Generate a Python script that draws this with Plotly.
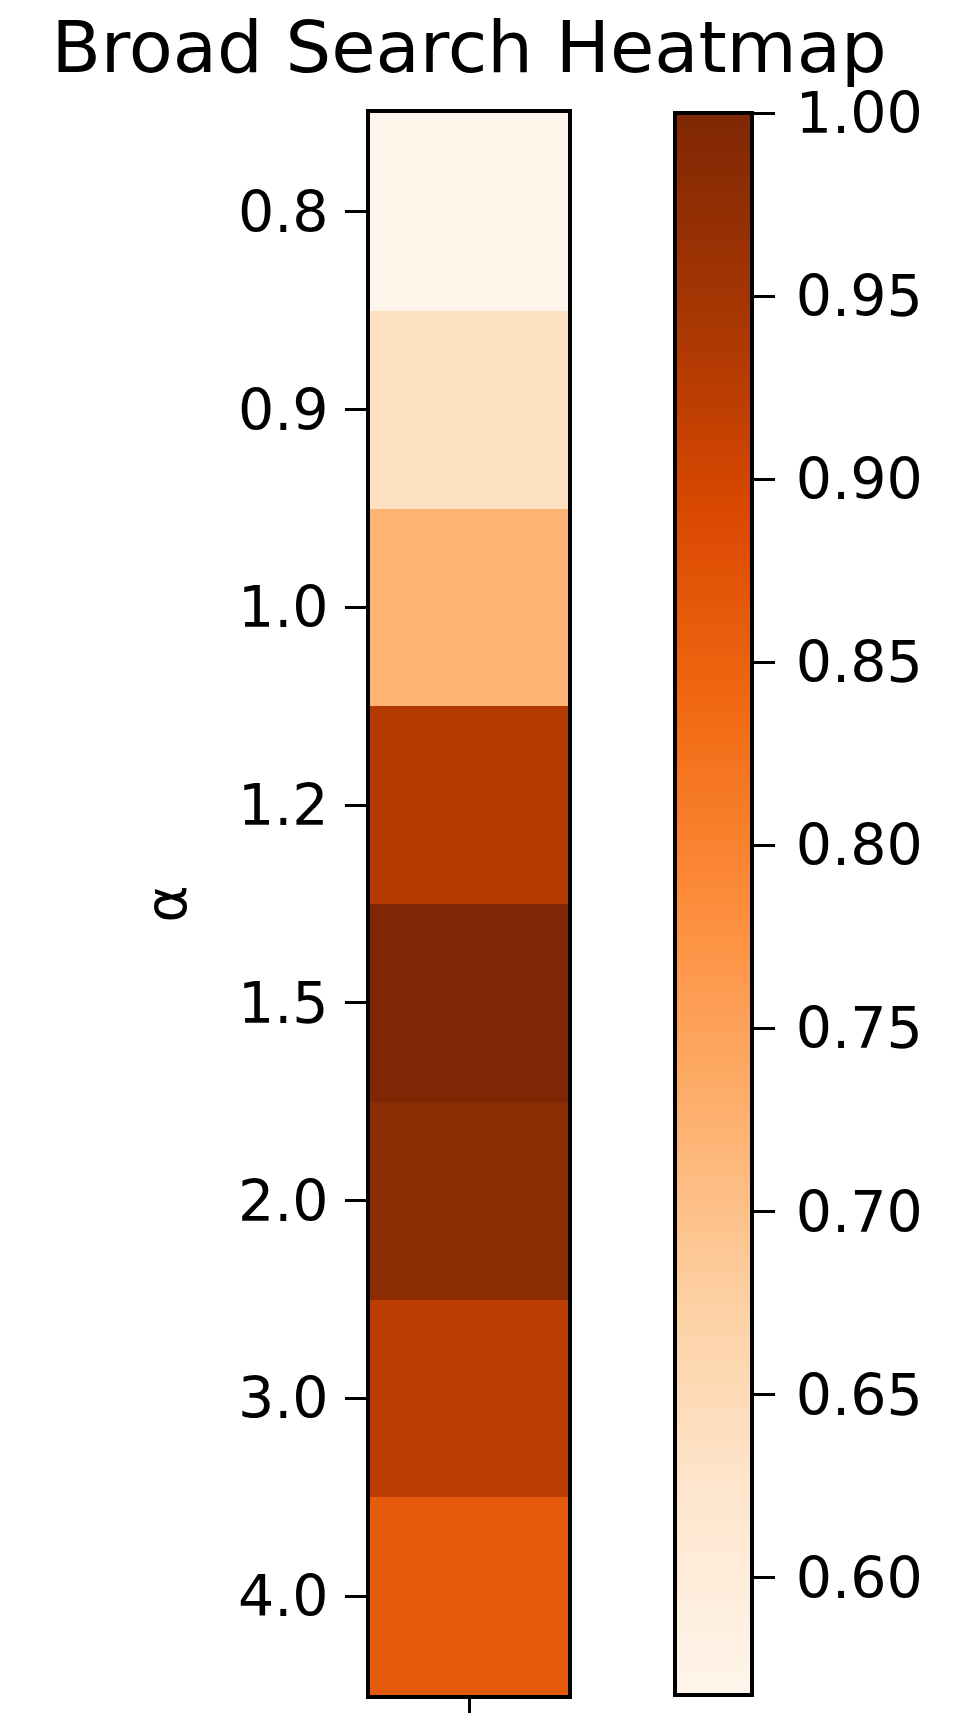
import plotly.graph_objects as go

alpha_labels = ["0.8", "0.9", "1.0", "1.2", "1.5", "2.0", "3.0", "4.0"]
scores = [0.568, 0.637, 0.719, 0.932, 1.000, 0.983, 0.922, 0.863]
col_labels = ["score"]
cbar_ticks = [0.60, 0.65, 0.70, 0.75, 0.80, 0.85, 0.90, 0.95, 1.00]

oranges = [
    [0.0, "rgb(255,245,235)"], [0.125, "rgb(254,230,206)"], [0.25, "rgb(253,208,162)"],
    [0.375, "rgb(253,174,107)"], [0.5, "rgb(253,141,60)"], [0.625, "rgb(241,105,19)"],
    [0.75, "rgb(217,72,1)"], [0.875, "rgb(166,54,3)"], [1.0, "rgb(127,39,4)"],
]

W, H = 978, 1713
L, R, T, B = 362, 560, 105, 1687
CBX = 667
FONT = "DejaVu Sans"
TICK_SIZE = 57

cbar_text = ["<span style='font-size:31px'>\u00a0</span>" + f"{v:.2f}" for v in cbar_ticks]

fig = go.Figure(go.Heatmap(
    z=[[v] for v in scores],
    x=col_labels,
    y=alpha_labels,
    colorscale=oranges,
    zmin=min(scores), zmax=max(scores),
    colorbar=dict(
        thickness=77, thicknessmode="pixels",
        len=(B - T) / H, lenmode="fraction",
        x=CBX / W, xanchor="left", xpad=0,
        y=1 - (T + B) / 2 / H, yanchor="middle", ypad=0,
        outlinewidth=4, outlinecolor="black",
        tickvals=cbar_ticks, ticktext=cbar_text,
        ticks="outside", ticklen=21, tickwidth=3, tickcolor="black",
        tickfont=dict(family=FONT, size=TICK_SIZE, color="black"),
    ),
))

fig.update_layout(
    width=W, height=H,
    margin=dict(l=0, r=0, t=0, b=0, pad=0, autoexpand=False),
    paper_bgcolor="white", plot_bgcolor="white",
    font=dict(family=FONT, color="black"),
    title=dict(
        text="Broad Search Heatmap",
        font=dict(family=FONT, size=72, color="black"),
        x=((L + R) / 2) / W, xanchor="center",
        y=1 - 64 / H, yanchor="bottom", yref="container",
    ),
)

fig.update_xaxes(
    domain=[L / W, R / W],
    tickvals=["score"], ticktext=[""],
    ticks="outside", ticklen=21, tickwidth=3, tickcolor="black",
    showline=True, linewidth=4, linecolor="black", mirror=True,
    showgrid=False, zeroline=False, automargin=False,
)
fig.update_yaxes(
    domain=[1 - B / H, 1 - T / H],
    autorange="reversed",
    ticks="outside", ticklen=21, tickwidth=3, tickcolor="black",
    ticklabelstandoff=5,
    tickfont=dict(family=FONT, size=TICK_SIZE, color="black"),
    showline=True, linewidth=4, linecolor="black", mirror=True,
    showgrid=False, zeroline=False, automargin=False,
    title=dict(text="α", font=dict(family=FONT, size=TICK_SIZE, color="black"), standoff=34),
)

fig.write_html("out.html")
